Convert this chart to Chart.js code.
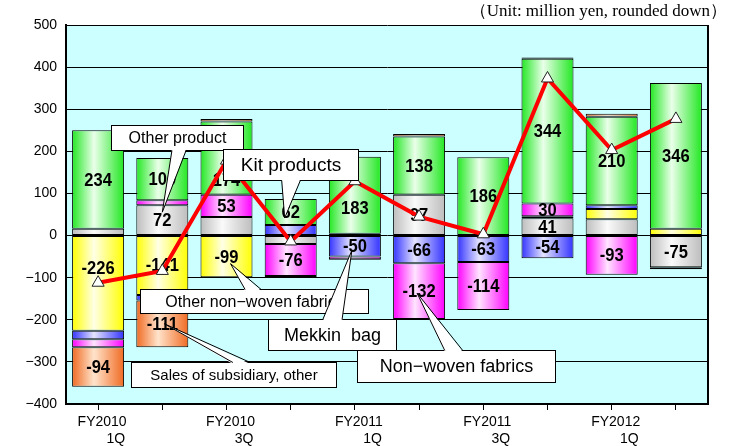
<!DOCTYPE html>
<html>
<head>
<meta charset="utf-8">
<script src="https://cdn.jsdelivr.net/npm/chart.js@4.4.1/dist/chart.umd.min.js"></script>
<style>
  html, body { margin: 0; padding: 0; background: #fff; }
  #wrap { width: 730px; height: 446px; }
</style>
</head>
<body>
<div id="wrap"><canvas id="profitChart" width="730" height="446"></canvas></div>
<script>
// Operating profit by business segment, quarterly (million yen)
const quarters = ['FY2010 1Q', 'FY2010 2Q', 'FY2010 3Q', 'FY2010 4Q', 'FY2011 1Q',
                  'FY2011 2Q', 'FY2011 3Q', 'FY2011 4Q', 'FY2012 1Q', 'FY2012 2Q'];
const otherProduct    = [16, 72, 44, -20, 0, 97, 0, 41, 39, -75];
const otherNonWoven   = [-226, -141, -99, 0, 4, 0, 0, 5, 24, 16];
const mekkinBag       = [-20, -13, 0, 25, -50, -66, -63, -54, 9, 0];
const nonWoven        = [-19, 12, 53, -76, -6, -132, -114, 30, -93, 0];
const kitProducts     = [234, 100, 174, 62, 183, 138, 186, 344, 210, 346];
const subsidiaryOther = [-94, -111, 6, -3, -2, 6, 0, 3, 7, -5];
const totalProfit     = [-112, -84, 178, -14, 129, 45, 3, 373, 203, 277];
const yTicks = [500, 400, 300, 200, 100, 0, -100, -200, -300, -400];

const BAR_PCT = 0.81;

// segments whose value is not printed, and labels moved off centre (px)
const unlabeled = new Set(['0:2', '0:8']);
const labelNudge = { '1:0': -15, '4:2': 22, '4:4': 13 };

// horizontal "cylinder" shading for each bar segment
function barFill(edge, light) {
  return function (c) {
    const chart = c.chart;
    const xs = chart.scales && chart.scales.x;
    if (!xs || c.dataIndex === undefined || !isFinite(xs.width)) return edge;
    const cx = xs.getPixelForValue(c.dataIndex);
    const half = xs.width / quarters.length * BAR_PCT / 2;
    const g = chart.ctx.createLinearGradient(cx - half, 0, cx + half, 0);
    g.addColorStop(0, edge);
    g.addColorStop(0.42, light);
    g.addColorStop(1, edge);
    return g;
  };
}

function barSet(label, data, edge, light) {
  return {
    type: 'bar', label, data, stack: 'segments', order: 1,
    backgroundColor: barFill(edge, light),
    borderColor: '#000', borderWidth: 1, borderSkipped: false,
    barPercentage: BAR_PCT, categoryPercentage: 1
  };
}

const minus = v => String(v).replace('-', '\u2212');

function labelPoint(chart, di, i) {
  const el = chart.getDatasetMeta(di).data[i];
  return { x: el.x, y: (el.y + el.base) / 2 + (labelNudge[di + ':' + i] || 0) };
}

// callout boxes: box = [left idx, right idx, top value, bottom value], base = tail foot on box edge
const callouts = [
  { text: 'Other product', size: 16, box: [0.20, 2.26, 263, 203], base: [1.15, 1.37], ds: 0, i: 1, dx: 0, dy: -8 },
  { text: 'Kit products', size: 19, box: [1.95, 4.05, 206, 132], base: [2.86, 3.15], ds: 4, i: 3, dx: -6, dy: 6 },
  { text: 'Other non\u2212woven fabrics', size: 16, box: [0.65, 4.20, -127, -184], base: [2.29, 2.54], ds: 1, i: 2, dx: 4, dy: 7 },
  { text: 'Mekkin  bag', size: 18, box: [2.65, 4.64, -198, -272], base: [3.50, 3.80], ds: 2, i: 4, dx: -3, dy: 4 },
  { text: 'Non\u2212woven fabrics', size: 18, box: [4.03, 7.12, -272, -348], base: [5.40, 5.68], ds: 3, i: 5, dx: -2, dy: 2 },
  { text: 'Sales of subsidiary, other', size: 15, box: [0.51, 3.71, -300, -360], base: [2.10, 2.37], ds: 5, i: 1, dx: 2, dy: 0 }
];

const plotFrame = {
  id: 'plotFrame',
  beforeDraw(chart) {
    const { ctx, chartArea: a } = chart;
    ctx.save();
    ctx.fillStyle = '#fff';
    ctx.fillRect(0, 0, chart.width, chart.height);
    ctx.fillStyle = '#ccffff';
    ctx.fillRect(a.left, a.top, a.right - a.left, a.bottom - a.top);
    ctx.restore();
  },
  afterDraw(chart) {
    const { ctx, chartArea: a } = chart;
    ctx.save();
    ctx.strokeStyle = '#000';
    ctx.lineWidth = 2;
    ctx.beginPath();
    ctx.moveTo(a.right, a.top);
    ctx.lineTo(a.right, a.bottom);
    ctx.stroke();
    ctx.fillStyle = '#000';
    ctx.font = '17px "Liberation Serif", "Times New Roman", serif';
    ctx.textAlign = 'right';
    ctx.textBaseline = 'alphabetic';
    ctx.fillText('\uff08Unit: million yen, rounded down\uff09', 727, 16);
    ctx.restore();
  }
};

// value labels sit on the bars but under the total line
const segmentLabels = {
  id: 'segmentLabels',
  beforeDatasetDraw(chart, args) {
    if (args.meta.type !== 'line') return;
    const ctx = chart.ctx;
    ctx.save();
    ctx.font = 'bold 18px "Liberation Sans", Arial, sans-serif';
    ctx.textAlign = 'center';
    ctx.textBaseline = 'middle';
    ctx.fillStyle = '#000';
    chart.data.datasets.forEach((ds, di) => {
      if (ds.type !== 'bar') return;
      ds.data.forEach((v, i) => {
        if (Math.abs(v) < 30 || unlabeled.has(di + ':' + i)) return;
        const p = labelPoint(chart, di, i);
        ctx.save();
        ctx.translate(p.x, p.y + 1);
        ctx.scale(0.92, 1);
        ctx.fillText(v < 0 ? '-' + Math.abs(v) : String(v), 0, 0);
        ctx.restore();
      });
    });
    ctx.restore();
  }
};

const calloutBoxes = {
  id: 'calloutBoxes',
  afterDatasetsDraw(chart) {
    const { ctx, scales: { x, y } } = chart;
    ctx.save();
    ctx.lineWidth = 1;
    ctx.strokeStyle = '#000';
    callouts.forEach(c => {
      const l = Math.round(x.getPixelForValue(c.box[0])) + 0.5;
      const r = Math.round(x.getPixelForValue(c.box[1])) + 0.5;
      const t = Math.round(y.getPixelForValue(c.box[2])) + 0.5;
      const b = Math.round(y.getPixelForValue(c.box[3])) + 0.5;
      ctx.fillStyle = '#fff';
      ctx.fillRect(l, t, r - l, b - t);
      ctx.strokeRect(l, t, r - l, b - t);

      const p = labelPoint(chart, c.ds, c.i);
      const tx = p.x + c.dx, ty = p.y + c.dy;
      const up = ty < t;
      const ey = up ? t + 1.5 : b - 1.5;
      const b0 = x.getPixelForValue(c.base[0]);
      const b1 = x.getPixelForValue(c.base[1]);
      ctx.beginPath();
      ctx.moveTo(b0, ey);
      ctx.lineTo(tx, ty);
      ctx.lineTo(b1, ey);
      ctx.closePath();
      ctx.fill();
      ctx.beginPath();
      ctx.moveTo(b0, up ? t : b);
      ctx.lineTo(tx, ty);
      ctx.lineTo(b1, up ? t : b);
      ctx.stroke();

      ctx.fillStyle = '#000';
      ctx.font = c.size + 'px "Liberation Sans", Arial, sans-serif';
      ctx.textAlign = 'center';
      ctx.textBaseline = 'middle';
      ctx.fillText(c.text, (l + r) / 2, (t + b) / 2 + 1);
    });
    ctx.restore();
  }
};

new Chart(document.getElementById('profitChart'), {
  data: {
    labels: quarters,
    datasets: [
      barSet('Other product', otherProduct, '#bdbdbd', '#fafafa'),
      barSet('Other non-woven fabrics', otherNonWoven, '#ffff00', '#ffffe6'),
      barSet('Mekkin bag', mekkinBag, '#3333ff', '#e4e4ff'),
      barSet('Non-woven fabrics', nonWoven, '#ff00ff', '#ffe4ff'),
      barSet('Kit products', kitProducts, '#22e822', '#eaffea'),
      barSet('Sales of subsidiary, other', subsidiaryOther, '#f06a22', '#ffe4cc'),
      {
        type: 'line', label: 'Total', data: totalProfit, stack: 'total', order: 0,
        borderColor: '#ff0000', borderWidth: 4, tension: 0,
        pointStyle: 'triangle', pointRadius: 7, pointBackgroundColor: '#fff',
        pointBorderColor: '#222', pointBorderWidth: 1
      }
    ]
  },
  options: {
    responsive: false,
    animation: false,
    devicePixelRatio: 1,
    layout: { padding: { top: 25, right: 22, left: 0, bottom: 0 } },
    plugins: { legend: { display: false }, tooltip: { enabled: false } },
    scales: {
      x: {
        stacked: true,
        offset: true,
        afterFit: s => { s.height = 42; },
        grid: { offset: false, drawOnChartArea: false, drawTicks: true, tickLength: 6, color: '#000' },
        border: { color: '#000', width: 2 },
        ticks: {
          autoSkip: false, maxRotation: 0, labelOffset: 4, padding: 3, color: '#000',
          font: { family: '"Liberation Sans", Arial, sans-serif', size: 14, lineHeight: 1.25 },
          callback(v, i) {
            if (i % 2) return '';
            const [fy, q] = quarters[i].split(' ');
            return [fy, '       ' + q];
          }
        }
      },
      y: {
        stacked: true,
        min: yTicks[yTicks.length - 1],
        max: yTicks[0],
        afterFit: s => { s.width = 66; },
        afterBuildTicks: s => { s.ticks = yTicks.map(v => ({ value: v })); },
        grid: { color: '#000', lineWidth: 1, drawTicks: false },
        border: { color: '#000', width: 2 },
        ticks: {
          padding: 9, color: '#000',
          font: { family: '"Liberation Sans", Arial, sans-serif', size: 14 },
          callback: v => minus(v)
        }
      }
    }
  },
  plugins: [plotFrame, segmentLabels, calloutBoxes]
});
</script>
</body>
</html>
